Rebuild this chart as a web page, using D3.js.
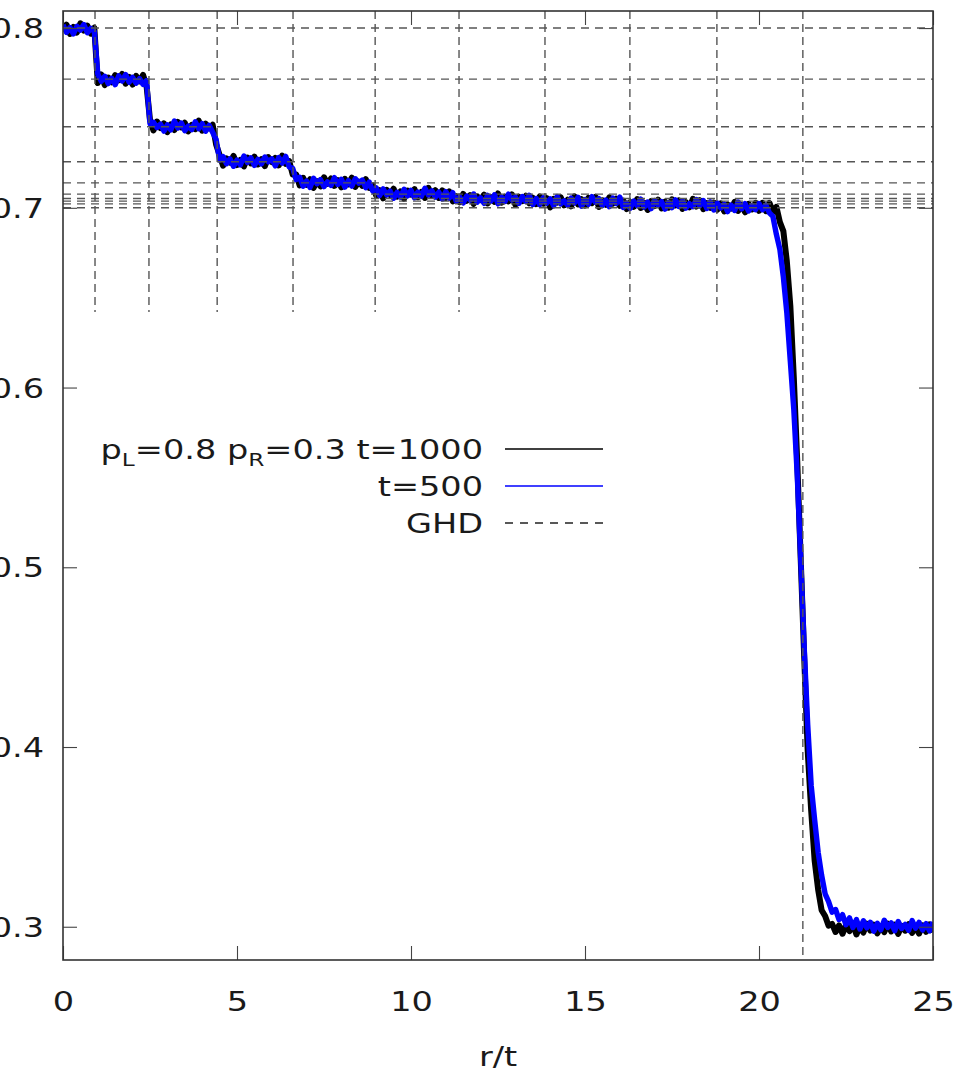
<!DOCTYPE html>
<html>
<head>
<meta charset="utf-8">
<script src="https://cdn.jsdelivr.net/npm/d3@7"></script>
<style>
  html, body { margin: 0; padding: 0; background: #fff; }
  svg { display: block; }
  text { font-family: "DejaVu Sans", sans-serif; fill: #1a1a1a; }
</style>
</head>
<body>
<svg id="chart" width="963" height="1075"></svg>
<script>
// Density profiles sampled every 0.1 in r/t, from r/t = 0 to 25
const rtStep = 0.1;

// t = 1000 profile
const densT1000 = [
  0.7980, 0.8019, 0.7967, 0.8006, 0.7975, 0.8027, 0.7986, 0.8013, 0.7969, 0.8002,
  0.7694, 0.7742, 0.7683, 0.7725, 0.7698, 0.7738, 0.7709, 0.7745, 0.7691, 0.7728,
  0.7686, 0.7734, 0.7704, 0.7740, 0.7679, 0.7489, 0.7430, 0.7480, 0.7444, 0.7470,
  0.7421, 0.7464, 0.7433, 0.7478, 0.7447, 0.7473, 0.7425, 0.7461, 0.7438, 0.7485,
  0.7429, 0.7468, 0.7442, 0.7462, 0.7352, 0.7294, 0.7234, 0.7275, 0.7251, 0.7289,
  0.7238, 0.7267, 0.7230, 0.7280, 0.7247, 0.7285, 0.7241, 0.7271, 0.7232, 0.7282,
  0.7254, 0.7277, 0.7236, 0.7291, 0.7245, 0.7260, 0.7185, 0.7186, 0.7125, 0.7167,
  0.7128, 0.7159, 0.7111, 0.7148, 0.7119, 0.7170, 0.7133, 0.7163, 0.7122, 0.7154,
  0.7114, 0.7161, 0.7130, 0.7168, 0.7116, 0.7146, 0.7123, 0.7160, 0.7111, 0.7124,
  0.7068, 0.7098, 0.7053, 0.7100, 0.7071, 0.7106, 0.7062, 0.7091, 0.7050, 0.7096,
  0.7074, 0.7104, 0.7059, 0.7088, 0.7055, 0.7111, 0.7067, 0.7098, 0.7055, 0.7097,
  0.7055, 0.7091, 0.7036, 0.7065, 0.7031, 0.7077, 0.7039, 0.7071, 0.7022, 0.7064,
  0.7043, 0.7073, 0.7024, 0.7059, 0.7033, 0.7080, 0.7028, 0.7062, 0.7036, 0.7075,
  0.7016, 0.7062, 0.7037, 0.7067, 0.7025, 0.7056, 0.7020, 0.7063, 0.7023, 0.7054,
  0.7002, 0.7050, 0.7029, 0.7059, 0.7014, 0.7045, 0.7008, 0.7064, 0.7019, 0.7048,
  0.7012, 0.7056, 0.7026, 0.7061, 0.7005, 0.7042, 0.7017, 0.7058, 0.7023, 0.7051,
  0.7011, 0.7040, 0.6993, 0.7032, 0.7005, 0.7049, 0.6999, 0.7028, 0.6988, 0.7038,
  0.7010, 0.7045, 0.6997, 0.7034, 0.7001, 0.7047, 0.7013, 0.7041, 0.6994, 0.7031,
  0.7003, 0.7050, 0.7007, 0.7042, 0.6992, 0.7026, 0.7000, 0.7029, 0.6989, 0.7024,
  0.6980, 0.7018, 0.6996, 0.7033, 0.6983, 0.7015, 0.6975, 0.7022, 0.6991, 0.7028,
  0.6983, 0.7028, 0.6981, 0.7027, 0.6977, 0.7005, 0.6920, 0.6870, 0.6702, 0.6455,
  0.6057, 0.5584, 0.5037, 0.4494, 0.3977, 0.3645, 0.3366, 0.3206, 0.3092, 0.3060,
  0.3006, 0.3016, 0.2971, 0.3007, 0.2961, 0.3009, 0.2976, 0.3014, 0.2957, 0.3003,
  0.2968, 0.3017, 0.2979, 0.3011, 0.2963, 0.3000, 0.2970, 0.3018, 0.2974, 0.3012,
  0.2960, 0.3005, 0.2978, 0.3015, 0.2966, 0.3002, 0.2962, 0.3008, 0.2972, 0.3013, 0.2969
];

// t = 500 profile
const densT500 = [
  0.8017, 0.7976, 0.8003, 0.7968, 0.8010, 0.7989, 0.8020, 0.7974, 0.7998, 0.7981,
  0.7744, 0.7704, 0.7732, 0.7691, 0.7721, 0.7685, 0.7734, 0.7706, 0.7741, 0.7699,
  0.7726, 0.7693, 0.7719, 0.7687, 0.7708, 0.7467, 0.7476, 0.7447, 0.7466, 0.7427,
  0.7461, 0.7434, 0.7483, 0.7444, 0.7472, 0.7429, 0.7454, 0.7435, 0.7479, 0.7440,
  0.7468, 0.7426, 0.7459, 0.7420, 0.7381, 0.7265, 0.7285, 0.7245, 0.7272, 0.7231,
  0.7265, 0.7239, 0.7288, 0.7253, 0.7278, 0.7236, 0.7270, 0.7244, 0.7283, 0.7256,
  0.7273, 0.7233, 0.7280, 0.7249, 0.7286, 0.7227, 0.7220, 0.7157, 0.7170, 0.7120,
  0.7149, 0.7114, 0.7164, 0.7134, 0.7157, 0.7118, 0.7144, 0.7125, 0.7168, 0.7130,
  0.7159, 0.7115, 0.7151, 0.7121, 0.7162, 0.7137, 0.7154, 0.7112, 0.7143, 0.7093,
  0.7111, 0.7068, 0.7105, 0.7072, 0.7093, 0.7053, 0.7086, 0.7060, 0.7103, 0.7066,
  0.7097, 0.7056, 0.7088, 0.7064, 0.7109, 0.7071, 0.7095, 0.7059, 0.7087, 0.7049,
  0.7090, 0.7054, 0.7084, 0.7037, 0.7060, 0.7027, 0.7066, 0.7043, 0.7077, 0.7031,
  0.7055, 0.7025, 0.7069, 0.7038, 0.7072, 0.7022, 0.7059, 0.7035, 0.7076, 0.7044,
  0.7059, 0.7024, 0.7063, 0.7035, 0.7069, 0.7018, 0.7052, 0.7018, 0.7056, 0.7026,
  0.7050, 0.7011, 0.7063, 0.7022, 0.7039, 0.7015, 0.7054, 0.7028, 0.7058, 0.7009,
  0.7046, 0.7020, 0.7062, 0.7031, 0.7051, 0.7013, 0.7043, 0.7006, 0.7055, 0.7024,
  0.7060, 0.7002, 0.7026, 0.6997, 0.7037, 0.7012, 0.7048, 0.7004, 0.7032, 0.6995,
  0.7041, 0.7015, 0.7034, 0.6993, 0.7029, 0.7001, 0.7044, 0.7008, 0.7038, 0.6998,
  0.7023, 0.7006, 0.7046, 0.7011, 0.7040, 0.6996, 0.7033, 0.6988, 0.7027, 0.6999,
  0.7020, 0.6979, 0.7015, 0.6985, 0.7032, 0.6994, 0.7023, 0.6982, 0.7012, 0.6990,
  0.7024, 0.6989, 0.7014, 0.6972, 0.6952, 0.6852, 0.6769, 0.6614, 0.6415, 0.6146,
  0.5878, 0.5508, 0.5042, 0.4547, 0.4123, 0.3786, 0.3594, 0.3414, 0.3286, 0.3183,
  0.3140, 0.3081, 0.3096, 0.3040, 0.3067, 0.3011, 0.3049, 0.2996, 0.3040, 0.2987,
  0.3033, 0.2994, 0.3025, 0.2975, 0.3019, 0.2983, 0.3036, 0.2996, 0.3022, 0.2978,
  0.3029, 0.2990, 0.3013, 0.2980, 0.3034, 0.2992, 0.3024, 0.2982, 0.3017, 0.2977, 0.3026
];

// GHD plateau densities and front positions (r/t)
const ghdLevels = [0.8, 0.7716, 0.7451, 0.7256, 0.7139, 0.7076, 0.7052, 0.7037, 0.7022, 0.7];
const ghdFronts = [0.92, 2.47, 4.43, 6.61, 8.97, 11.38, 13.85, 16.29, 18.79, 21.26];
const ghdFrontLow = [0.642, 0.642, 0.642, 0.642, 0.642, 0.642, 0.642, 0.642, 0.642, 0.2815];

// Axes
const xDomain = [0, 25];
const yDomain = [0.2815, 0.8095];
const xTicks = [0, 5, 10, 15, 20, 25];
const yTicks = [0.3, 0.4, 0.5, 0.6, 0.7, 0.8];
const xTitle = "r/t";

// Legend
const legendPrefix = ["p", "L", "=0.8 p", "R", "=0.3 "];
const legendLabels = ["t=1000", "t=500", "GHD"];

// ---------------------------------------------------------------
const svg = d3.select("#chart");
const L = 63, R = 933, T = 11, B = 960;
const SX = 1.29;         // horizontal stretch of the lettering
const FS = 26;           // font size in px
const TICK = 14;

const x = d3.scaleLinear().domain(xDomain).range([L, R]);
const y = d3.scaleLinear().domain(yDomain).range([B, T]);

svg.append("defs").append("clipPath").attr("id", "plotArea")
  .append("rect").attr("x", L).attr("y", T).attr("width", R - L).attr("height", B - T);

const plot = svg.append("g").attr("clip-path", "url(#plotArea)");

// Profiles (noisy bands)
const line = d3.line().x((d, i) => x(i * rtStep)).y(d => y(d));
plot.append("path").datum(densT1000)
  .attr("d", line).attr("fill", "none")
  .attr("stroke", "#000").attr("stroke-width", 6).attr("stroke-linejoin", "round");
plot.append("path").datum(densT500)
  .attr("d", line).attr("fill", "none")
  .attr("stroke", "#0000ff").attr("stroke-width", 5.4).attr("stroke-linejoin", "round");

// GHD horizontal plateaus
plot.append("g").selectAll("line").data(ghdLevels).join("line")
  .attr("x1", L).attr("x2", R)
  .attr("y1", d => y(d)).attr("y2", d => y(d))
  .attr("stroke", "#555").attr("stroke-width", 1.4)
  .attr("stroke-dasharray", "8,6");

// GHD fronts
plot.append("g").selectAll("line").data(ghdFronts).join("line")
  .attr("x1", d => x(d)).attr("x2", d => x(d))
  .attr("y1", T).attr("y2", (d, i) => y(ghdFrontLow[i]))
  .attr("stroke", "#555").attr("stroke-width", 1.4)
  .attr("stroke-dasharray", "8,5");

// Ticks on all four sides, pointing inward
const tickStyle = g => {
  g.select(".domain").remove();
  g.selectAll(".tick line").attr("stroke", "#444").attr("stroke-width", 1.1);
};
svg.append("g").attr("transform", `translate(0,${B})`)
  .call(d3.axisBottom(x).tickValues(xTicks).tickSize(-TICK).tickFormat(d3.format("d")))
  .call(tickStyle)
  .call(g => g.selectAll(".tick text")
    .attr("y", null).attr("dy", null)
    .attr("font-family", null).attr("font-size", FS)
    .attr("transform", `translate(0,51) scale(${SX},1)`));
svg.append("g").attr("transform", `translate(0,${T})`)
  .call(d3.axisTop(x).tickValues(xTicks).tickSize(-TICK).tickFormat(""))
  .call(tickStyle);
svg.append("g").attr("transform", `translate(${L},0)`)
  .call(d3.axisLeft(y).tickValues(yTicks).tickSize(-TICK).tickFormat(d3.format(".1f")))
  .call(tickStyle)
  .call(g => g.selectAll(".tick text")
    .attr("x", null).attr("dy", null)
    .attr("font-family", null).attr("font-size", FS)
    .attr("transform", `translate(-19,9.5) scale(${SX},1)`));
svg.append("g").attr("transform", `translate(${R},0)`)
  .call(d3.axisRight(y).tickValues(yTicks).tickSize(-TICK).tickFormat(""))
  .call(tickStyle);

svg.selectAll(".tick text").style("fill", "#1a1a1a");

// Frame
svg.append("rect").attr("x", L).attr("y", T).attr("width", R - L).attr("height", B - T)
  .attr("fill", "none").attr("stroke", "#333").attr("stroke-width", 1.6);

// Axis title
svg.append("text")
  .attr("transform", `translate(${(L + R) / 2},1066) scale(${SX},1)`)
  .attr("text-anchor", "middle").attr("font-size", FS)
  .text(xTitle);

// Legend
const legRows = [449, 486, 523];
const legStyles = [
  { stroke: "#000", dash: null },
  { stroke: "#0000ff", dash: null },
  { stroke: "#222", dash: "8,7" }
];
const leg = svg.append("g");
legendLabels.forEach((lab, i) => {
  const t = leg.append("text")
    .attr("transform", `translate(483,${legRows[i] + 9.5}) scale(${SX},1)`)
    .attr("text-anchor", "end").attr("font-size", FS);
  if (i === 0) {
    t.append("tspan").text(legendPrefix[0]);
    t.append("tspan").attr("font-size", 18).attr("dy", 7).text(legendPrefix[1]);
    t.append("tspan").attr("dy", -7).text(legendPrefix[2]);
    t.append("tspan").attr("font-size", 18).attr("dy", 7).text(legendPrefix[3]);
    t.append("tspan").attr("dy", -7).text(legendPrefix[4] + lab);
  } else {
    t.text(lab);
  }
  leg.append("line")
    .attr("x1", 505).attr("x2", 603)
    .attr("y1", legRows[i]).attr("y2", legRows[i])
    .attr("stroke", legStyles[i].stroke).attr("stroke-width", 1.5)
    .attr("stroke-dasharray", legStyles[i].dash);
});
</script>
</body>
</html>
